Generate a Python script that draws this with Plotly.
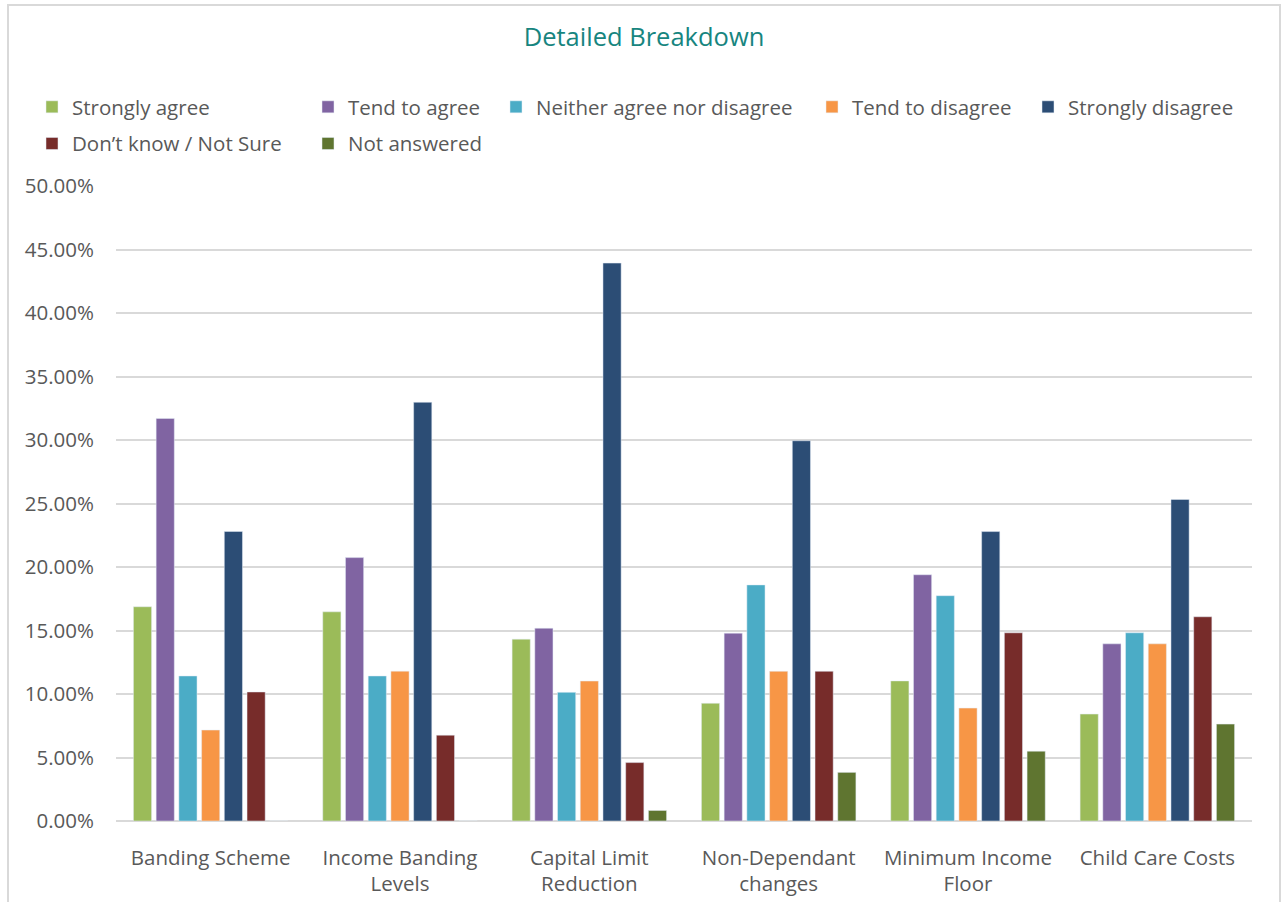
import plotly.graph_objects as go

categories = ["Banding Scheme", "Income Banding<br>Levels", "Capital Limit<br>Reduction",
              "Non-Dependant<br>changes", "Minimum Income<br>Floor", "Child Care Costs"]

series_names = ["Strongly agree", "Tend to agree", "Neither agree nor disagree",
                "Tend to disagree", "Strongly disagree", "Don\u2019t know / Not Sure", "Not answered"]

strongly_agree = [0.1687, 0.1647, 0.1432, 0.0927, 0.1103, 0.0842]
tend_to_agree = [0.3170, 0.2074, 0.1518, 0.1479, 0.1939, 0.1395]
neither = [0.1142, 0.1142, 0.1013, 0.1859, 0.1774, 0.1482]
tend_to_disagree = [0.0716, 0.1180, 0.1102, 0.1179, 0.0889, 0.1395]
strongly_disagree = [0.2280, 0.3297, 0.4393, 0.2994, 0.2279, 0.2532]
dont_know = [0.1016, 0.0676, 0.0460, 0.1179, 0.1482, 0.1608]
not_answered = [0.0, 0.0, 0.0083, 0.0383, 0.0550, 0.0763]

colors = ["#9BBB59", "#8064A2", "#4BACC6", "#F79646", "#2C4D75", "#772C2A", "#5F7530"]

values = [strongly_agree, tend_to_agree, neither, tend_to_disagree,
          strongly_disagree, dont_know, not_answered]

# legend column assignment (mimics the two-row, column-aligned legend)
legend_ids = ["legend", "legend2", "legend3", "legend4", "legend5", "legend", "legend2"]

fig = go.Figure()
for name, vals, col, lg in zip(series_names, values, colors, legend_ids):
    fig.add_trace(go.Bar(
        x=categories, y=vals, name=name, marker_color=col,
        legend=lg, legendgroup=name,
        hovertemplate="%{x}: %{y:.2%}<extra>" + name + "</extra>",
    ))

W, H = 1286, 902
font_family = "Open Sans, Noto Sans, sans-serif"
txt_col = "#595959"
leg_font = dict(family=font_family, size=20.5, color=txt_col)

def leg(xpx):
    return dict(
        x=xpx / W, xref="container", xanchor="left",
        y=1 - 87 / H, yref="container", yanchor="top",
        orientation="v", font=leg_font, bgcolor="rgba(0,0,0,0)",
        traceorder="grouped", tracegroupgap=7, itemwidth=30,
    )

ML, MR, MT, MB = 116, W - 1252, 186, H - 821

fig.update_layout(
    width=W, height=H,
    paper_bgcolor="white", plot_bgcolor="white",
    margin=dict(l=ML, r=MR, t=MT, b=MB, autoexpand=False),
    title=dict(text="Detailed Breakdown", x=644 / W, xref="container", xanchor="center",
               y=1 - 37 / H, yref="container", yanchor="middle",
               font=dict(family=font_family, size=25.5, color="#17857F")),
    barmode="group", bargap=0.16, bargroupgap=0.2,
    showlegend=True,
    legend=leg(32), legend2=leg(308), legend3=leg(496), legend4=leg(812), legend5=leg(1028),
    font=dict(family=font_family, color=txt_col),
)

fig.update_yaxes(
    range=[0, 0.5], dtick=0.05, tickformat=".2%",
    showgrid=True, gridcolor="#D9D9D9", gridwidth=1.5,
    zeroline=True, zerolinecolor="#D9D9D9", zerolinewidth=2,
    showline=False, ticks="", ticklabelstandoff=21,
    tickfont=dict(family=font_family, size=20.5, color=txt_col),
)
fig.update_xaxes(
    showgrid=False, showline=False, ticks="", ticklabelstandoff=22,
    tickfont=dict(family=font_family, size=20.5, color=txt_col),
)

# outer chart border (light grey frame)
pw, ph = W - ML - MR, H - MT - MB
px2x = lambda px: (px - ML) / pw
px2y = lambda py: (H - MB - py) / ph
fig.add_shape(type="rect", xref="paper", yref="paper",
              x0=px2x(8), x1=px2x(1280), y0=px2y(930), y1=px2y(5),
              line=dict(color="#D9D9D9", width=2), fillcolor="rgba(0,0,0,0)", layer="below")

fig.write_html("out.html", config={"displayModeBar": False},
               post_script="document.body.style.margin='0';document.body.style.overflow='hidden';")
